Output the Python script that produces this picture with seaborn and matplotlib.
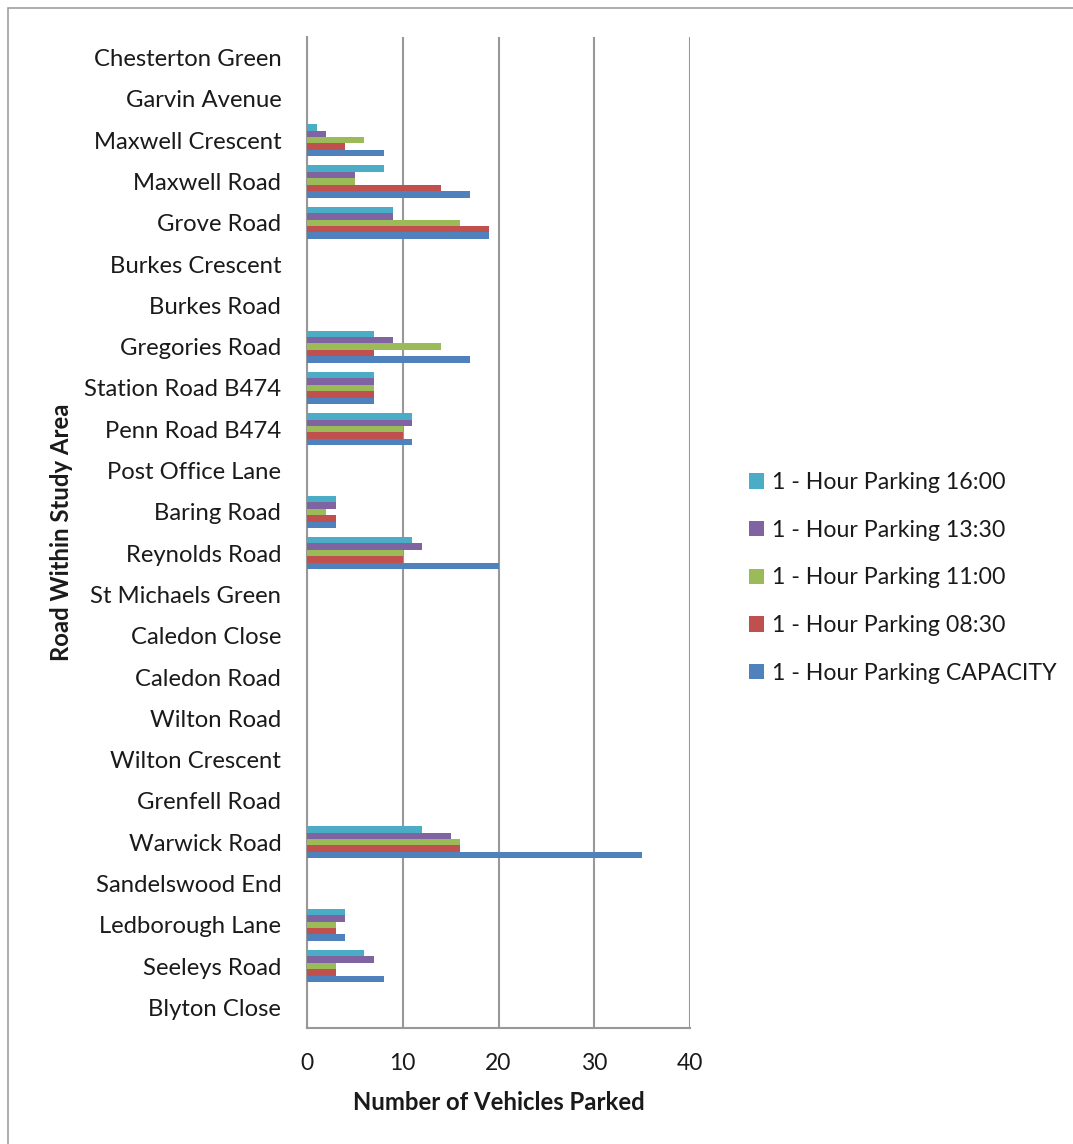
import matplotlib
matplotlib.use("Agg")
import matplotlib.pyplot as plt
import seaborn as sns
import pandas as pd
import numpy as np
from matplotlib.patches import Rectangle

roads = ["Chesterton Green", "Garvin Avenue", "Maxwell Crescent", "Maxwell Road", "Grove Road",
         "Burkes Crescent", "Burkes Road", "Gregories Road", "Station Road B474", "Penn Road B474",
         "Post Office Lane", "Baring Road", "Reynolds Road", "St Michaels Green", "Caledon Close",
         "Caledon Road", "Wilton Road", "Wilton Crescent", "Grenfell Road", "Warwick Road",
         "Sandelswood End", "Ledborough Lane", "Seeleys Road", "Blyton Close"]

p1600 = [0, 0, 1, 8, 9, 0, 0, 7, 7, 11, 0, 3, 11, 0, 0, 0, 0, 0, 0, 12, 0, 4, 6, 0]
p1330 = [0, 0, 2, 5, 9, 0, 0, 9, 7, 11, 0, 3, 12, 0, 0, 0, 0, 0, 0, 15, 0, 4, 7, 0]
p1100 = [0, 0, 6, 5, 16, 0, 0, 14, 7, 10, 0, 2, 10, 0, 0, 0, 0, 0, 0, 16, 0, 3, 3, 0]
p0830 = [0, 0, 4, 14, 19, 0, 0, 7, 7, 10, 0, 3, 10, 0, 0, 0, 0, 0, 0, 16, 0, 3, 3, 0]
capacity = [0, 0, 8, 17, 19, 0, 0, 17, 7, 11, 0, 3, 20, 0, 0, 0, 0, 0, 0, 35, 0, 4, 8, 0]

series_names = ["1 - Hour Parking 16:00", "1 - Hour Parking 13:30", "1 - Hour Parking 11:00",
                "1 - Hour Parking 08:30", "1 - Hour Parking CAPACITY"]
series_values = [p1600, p1330, p1100, p0830, capacity]
colors = ["#4BACC6", "#8064A2", "#9BBB59", "#C0504D", "#4F81BD"]

rows = []
for name, vals in zip(series_names, series_values):
    for r, v in zip(roads, vals):
        rows.append({"Road": r, "Series": name, "Value": v})
df = pd.DataFrame(rows)

sns.set_style("white")
plt.rcParams['font.family'] = ['Lato', 'DejaVu Sans']

TXT = "#1a1a1a"
GRID = "#989898"

fig = plt.figure(figsize=(10.73, 11.44), dpi=100)
ax = fig.add_axes([307/1073, 1 - 1028/1144, (690-307)/1073, (1028-37)/1144])

sns.barplot(data=df, x="Value", y="Road", hue="Series", order=roads, hue_order=series_names,
            palette=colors, orient="h", width=0.78, ax=ax, errorbar=None, saturation=1,
            edgecolor="none", zorder=3)

ax.set_xlim(0, 40)
ax.set_ylim(len(roads) - 0.5, -0.5)
ax.set_xticks([0, 10, 20, 30, 40])
ax.tick_params(axis="x", labelsize=16.5, length=7, width=1.3, color=GRID, pad=11,
               direction="out", labelcolor=TXT)
ax.xaxis.grid(True, color=GRID, linewidth=1.5, zorder=0)
ax.yaxis.grid(False)
ax.set_yticks(range(len(roads)))
ax.set_yticklabels(roads, fontsize=17.2)
ax.tick_params(axis="y", which="major", length=0, pad=18.5, labelcolor=TXT)
ax.set_yticks(np.arange(-0.5, len(roads), 1.0), minor=True)
ax.tick_params(axis="y", which="minor", length=7, width=1.3, color=GRID, direction="out")

for s in ["top", "right"]:
    ax.spines[s].set_visible(False)
for s in ["left", "bottom"]:
    ax.spines[s].set_color(GRID)
    ax.spines[s].set_linewidth(1.5)

ax.set_xlabel("Number of Vehicles Parked", fontsize=17.2, fontweight="bold", labelpad=12, color=TXT)
ax.set_ylabel("Road Within Study Area", fontsize=17.2, fontweight="bold", labelpad=8, color=TXT)

handles, labels = ax.get_legend_handles_labels()
ax.legend(handles, labels, loc="center left", bbox_to_anchor=(740/1073, 1 - 578/1144),
          bbox_transform=fig.transFigure, frameon=False, fontsize=16.7, handlelength=0.62,
          handleheight=0.62, handletextpad=0.35, labelspacing=1.15, borderaxespad=0, title=None,
          labelcolor=TXT)

fig.patches.append(Rectangle((8/1073, -0.5), 2.0, 1.5 - 8/1144, transform=fig.transFigure,
                             fill=False, edgecolor="#A0A0A0", linewidth=1.2, zorder=0))

fig.savefig("out.png", dpi=100, facecolor="white")
